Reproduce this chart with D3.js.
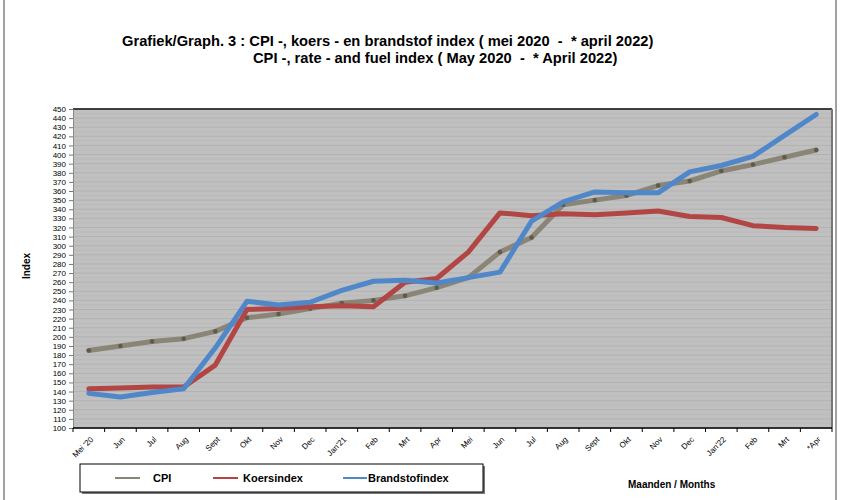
<!DOCTYPE html>
<html>
<head>
<meta charset="utf-8">
<script src="https://cdn.jsdelivr.net/npm/d3@7"></script>
<style>
  body { margin: 0; background: #fff; }
  svg { font-family: "Liberation Sans", Arial, sans-serif; }
  .axis text { font-size: 8px; fill: #000; }
</style>
</head>
<body>
<svg id="chart" width="841" height="500"></svg>
<script>
// months May 2020 - April 2022
const months = ["Mei '20", "Jun", "Jul", "Aug", "Sept", "Okt", "Nov", "Dec", "Jan'21", "Feb", "Mrt", "Apr",
  "Mei", "Jun", "Jul", "Aug", "Sept", "Okt", "Nov", "Dec", "Jan'22", "Feb", "Mrt", "*Apr"];
const cpi = [185, 190, 195, 198, 206, 221, 225, 231, 237, 240, 245, 254,
  265, 293, 309, 345, 350, 355, 366, 371, 382, 389, 397, 405];
const koersindex = [143, 144, 145, 145, 169, 230, 231, 233, 234, 233, 260, 264,
  293, 336, 333, 335, 334, 336, 338, 332, 331, 322, 320, 319];
const brandstofindex = [138, 134, 139, 143, 188, 239, 235, 238, 251, 261, 262, 259,
  265, 271, 327, 348, 359, 358, 358, 381, 388, 398, 421, 444];
const yTicks = d3.range(100, 451, 10);

const series = [
  { name: "CPI", values: cpi, color: "#8a8577" },
  { name: "Koersindex", values: koersindex, color: "#b24644" },
  { name: "Brandstofindex", values: brandstofindex, color: "#4f87c9" }
];

const svg = d3.select("#chart");
const margin = { top: 109, right: 9, bottom: 72, left: 73 };
const width = 841 - margin.left - margin.right;
const height = 500 - margin.top - margin.bottom;

// outer frame lines
svg.append("line").attr("x1", 4).attr("x2", 4).attr("y1", 0).attr("y2", 500).attr("stroke", "#444").attr("stroke-width", 1);
svg.append("line").attr("x1", 836).attr("x2", 836).attr("y1", 0).attr("y2", 500).attr("stroke", "#444").attr("stroke-width", 1);

const g = svg.append("g").attr("transform", "translate(" + margin.left + "," + margin.top + ")");

const x = d3.scaleBand().domain(d3.range(months.length)).range([0, width]);
const y = d3.scaleLinear().domain([100, 450]).range([height, 0]);

g.append("rect").attr("width", width).attr("height", height).attr("fill", "#c0c0c0");

// gridlines (faint stripes)
g.selectAll(".grid").data(yTicks).enter().append("line")
  .attr("x1", 0).attr("x2", width)
  .attr("y1", d => y(d)).attr("y2", d => y(d))
  .attr("stroke", "#b2b2b2").attr("stroke-width", 1);
g.selectAll(".grid2").data(yTicks.slice(1)).enter().append("line")
  .attr("x1", 0).attr("x2", width)
  .attr("y1", d => y(d - 5)).attr("y2", d => y(d - 5))
  .attr("stroke", "#bababa").attr("stroke-width", 1);

// frame of plot area
g.append("line").attr("x1", 0).attr("x2", width).attr("y1", 0).attr("y2", 0).attr("stroke", "#111").attr("stroke-width", 1.5);
g.append("line").attr("x1", width).attr("x2", width).attr("y1", 0).attr("y2", height).attr("stroke", "#777").attr("stroke-width", 2);

// y axis
const yAxis = g.append("g").attr("class", "axis")
  .call(d3.axisLeft(y).tickValues(yTicks).tickSize(4).tickPadding(3));
yAxis.select(".domain").attr("stroke", "#888");
yAxis.selectAll(".tick line").attr("stroke", "#777");

// x axis, ticks on category boundaries
const xAxis = g.append("g").attr("class", "axis").attr("transform", "translate(0," + height + ")");
xAxis.append("line").attr("x1", 0).attr("x2", width).attr("stroke", "#000").attr("stroke-width", 1.5);
xAxis.selectAll(".xtick").data(d3.range(months.length + 1)).enter().append("line")
  .attr("x1", d => d * x.step()).attr("x2", d => d * x.step())
  .attr("y1", 0).attr("y2", 4).attr("stroke", "#000");
xAxis.selectAll(".xlabel").data(months).enter().append("text")
  .attr("transform", (d, i) => "translate(" + (x(i) + x.bandwidth() / 2 + 3) + ",10) rotate(-45)")
  .attr("text-anchor", "end")
  .attr("dy", "0.35em")
  .text(d => d);

// lines
const line = d3.line().x((d, i) => x(i) + x.bandwidth() / 2).y(d => y(d));
series.forEach(s => {
  g.append("path").datum(s.values)
    .attr("fill", "none")
    .attr("stroke", s.color)
    .attr("stroke-width", 5)
    .attr("stroke-linejoin", "round")
    .attr("stroke-linecap", "round")
    .attr("d", line);
  if (s.name === "CPI") {
    g.selectAll(".cpidot").data(s.values).enter().append("circle")
      .attr("cx", (d, i) => x(i) + x.bandwidth() / 2)
      .attr("cy", d => y(d))
      .attr("r", 2.3)
      .attr("fill", "#5f5b49");
  }
});

// axis title
svg.append("text")
  .attr("transform", "translate(30,266) rotate(-90)")
  .attr("text-anchor", "middle")
  .attr("font-size", 10).attr("font-weight", "bold")
  .text("Index");

// title
const title = svg.append("text").attr("font-size", 14.7).attr("font-weight", "bold").style("white-space", "pre");
title.append("tspan").attr("x", 122).attr("y", 46).text("Grafiek/Graph. 3 : CPI -, koers - en brandstof index ( mei 2020  -  * april 2022)");
title.append("tspan").attr("x", 253).attr("y", 63).text("CPI -, rate - and fuel index ( May 2020  -  * April 2022)");

// legend
const legend = svg.append("g");
legend.append("rect").attr("x", 82).attr("y", 466).attr("width", 403).attr("height", 28).attr("fill", "#777");
legend.append("rect").attr("x", 80).attr("y", 464).attr("width", 403).attr("height", 28).attr("fill", "#fff").attr("stroke", "#000").attr("stroke-width", 1);
const legendX = [[115, 140, 153], [213, 238, 243], [343, 367, 368]];
series.forEach((s, i) => {
  legend.append("line").attr("x1", legendX[i][0]).attr("x2", legendX[i][1]).attr("y1", 478).attr("y2", 478)
    .attr("stroke", s.color).attr("stroke-width", 2);
  legend.append("text").attr("x", legendX[i][2]).attr("y", 482)
    .attr("font-size", 11).attr("font-weight", "bold").text(s.name);
});

svg.append("text").attr("x", 628).attr("y", 488)
  .attr("font-size", 10).attr("font-weight", "bold").text("Maanden / Months");
</script>
</body>
</html>
